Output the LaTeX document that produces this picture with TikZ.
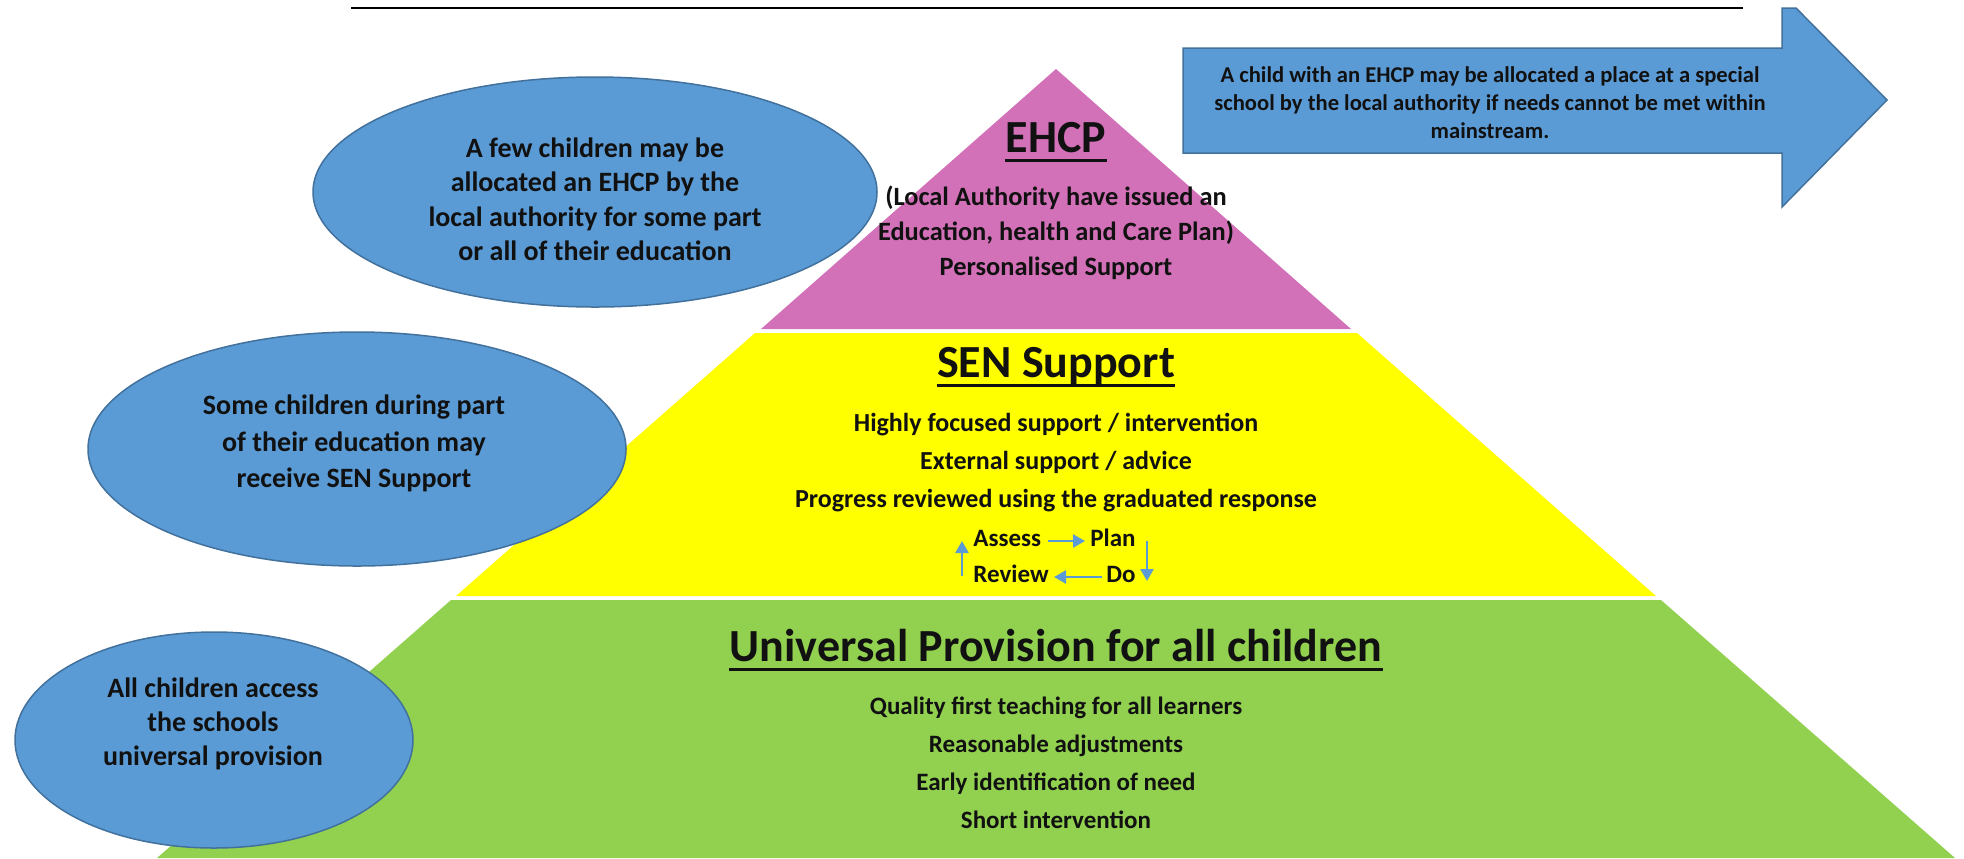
\documentclass[tikz,border=0pt]{standalone}
\usepackage{fontspec}
\setmainfont{Carlito}
\usetikzlibrary{arrows.meta,calc,shapes.geometric}
\definecolor{eblue}{HTML}{5B9BD5}
\definecolor{eborder}{HTML}{41719C}
\definecolor{pinkc}{RGB}{210,112,184}
\definecolor{yel}{HTML}{FFFF00}
\definecolor{grn}{HTML}{92D050}
\definecolor{ink}{HTML}{111111}
\begin{document}
\begin{tikzpicture}[x=0.5pt,y=-0.5pt,
  ell/.style={ellipse, fill=eblue, draw=eborder, line width=0.75pt, inner sep=0pt},
  etxt/.style={align=center, text=ink, inner sep=0pt},
  ttl/.style={text=ink, inner sep=0pt, font=\fontsize{23}{27}\selectfont\bfseries},
  ul/.style={draw=ink, line width=1.5pt},
  cyctxt/.style={text=ink, inner sep=0pt, text height=0.7em, text depth=0.2em, font=\fontsize{12.5}{15}\selectfont\bfseries},
  cyc/.style={draw=eblue, line width=1.2pt, -{Triangle[length=6pt,width=6.5pt]}}
]
\useasboundingbox (0,0) rectangle (1964,858);
\fill[white] (0,0) rectangle (1964,858);
% top rule
\draw[line width=1pt, black] (351,8) -- (1743,8);
% pyramid layers
\fill[pinkc] (1056,69) -- (1351,329) -- (761,329) -- cycle;
\fill[yel] (755,333) -- (1357,333) -- (1656,596) -- (456,596) -- cycle;
\fill[grn] (451,600) -- (1661,600) -- (1955,858) -- (157,858) -- cycle;
% block arrow
\draw[fill=eblue, draw=eborder, line width=0.75pt] (1183,48) -- (1782,48) -- (1782,8) -- (1796,8) -- (1887,100) -- (1782,207) -- (1782,153) -- (1183,153) -- cycle;
\node[etxt, font=\fontsize{11.3}{14}\selectfont\bfseries] (arrowtxt) at (1490,103)
  {A child with an EHCP may be allocated a place at a special\\school by the local authority if needs cannot be met within\\mainstream.};
% ellipses
\node[ell, minimum width=282pt, minimum height=115pt] (e1) at (595,192) {};
\node[etxt, font=\fontsize{14}{17.25}\selectfont\bfseries] (e1t) at (595,199.5)
  {A few children may be\\allocated an EHCP by the\\local authority for some part\\or all of their education};
\node[ell, minimum width=269pt, minimum height=117pt] (e2) at (357,449) {};
\node[etxt, font=\fontsize{14}{18.25}\selectfont\bfseries] (e2t) at (354,443.5)
  {Some children during part\\of their education may\\receive SEN Support};
\node[ell, minimum width=199pt, minimum height=108pt] (e3) at (214,740) {};
\node[etxt, font=\fontsize{14}{17}\selectfont\bfseries] (e3t) at (213,724)
  {All children access\\the schools\\universal provision};
% EHCP level
\node[ttl] (t1) at (1056,138) {EHCP};
\draw[ul] ([yshift=-4pt]t1.base west) -- ([yshift=-4pt]t1.base east);
\node[etxt, font=\fontsize{13.2}{17.5}\selectfont\bfseries] (b1) at (1056,233)
  {(Local Authority have issued an\\Education, health and Care Plan)\\Personalised Support};
% SEN level
\node[ttl] (t2) at (1056,366) {SEN Support};
\draw[ul] ([yshift=-4pt]t2.base west) -- ([yshift=-4pt]t2.base east);
\node[etxt, font=\fontsize{13}{19}\selectfont\bfseries] (b2) at (1056,463)
  {Highly focused support / intervention\\External support / advice\\Progress reviewed using the graduated response};
\node[cyctxt, anchor=west] (assess) at (973,541) {Assess};
\node[cyctxt, anchor=east] (plan) at (1136,541) {Plan};
\node[cyctxt, anchor=west] (review) at (973,577) {Review};
\node[cyctxt, anchor=east] (do) at (1136,577) {Do};
\draw[cyc, shorten <=3.5pt, shorten >=2.5pt] (assess.east) -- (plan.west);
\draw[cyc] ($(plan.east)+(11,0)$) -- ($(do.east)+(11,4)$);
\draw[cyc, shorten <=2pt, shorten >=2.5pt] (do.west) -- (review.east);
\draw[cyc] ($(review.west)+(-11,-1)$) -- ($(assess.west)+(-11,0)$);
% Universal level
\node[ttl] (t3) at (1056,646) {Universal Provision for all children};
\draw[ul] ([yshift=-4pt]t3.base west) -- ([yshift=-4pt]t3.base east);
\node[etxt, font=\fontsize{12.5}{19}\selectfont\bfseries] (b3) at (1056,763)
  {Quality first teaching for all learners\\Reasonable adjustments\\Early identification of need\\Short intervention};
\end{tikzpicture}
\end{document}
